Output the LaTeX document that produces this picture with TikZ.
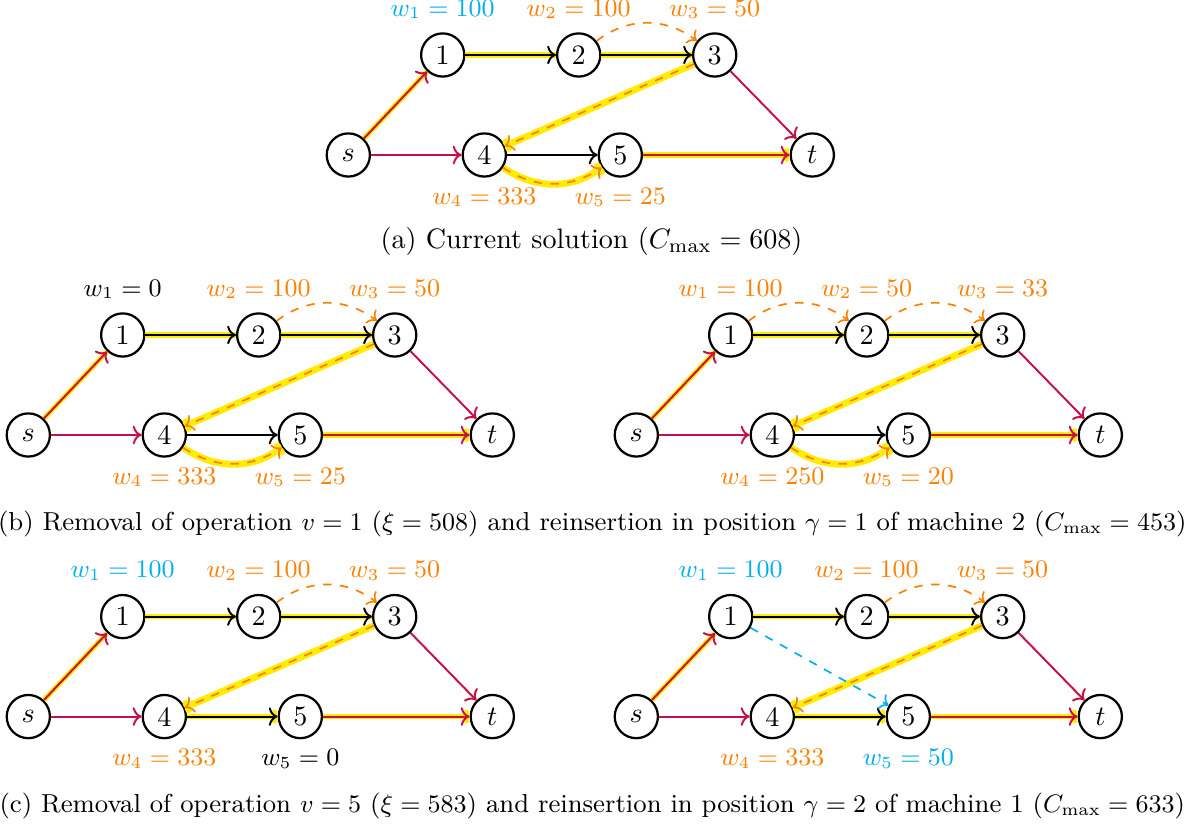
\documentclass[tikz,border=0pt]{standalone}
\usepackage{amsmath}
\usepackage{tikz}
\usetikzlibrary{
    arrows.meta,
    positioning
}
\definecolor{wcyan}{RGB}{0,174,239}
\definecolor{worange}{RGB}{255,128,0}
\definecolor{arccrimson}{RGB}{200,16,70}
\definecolor{hlyellow}{RGB}{255,236,0}
\tikzset{
    opnode/.style={
        draw,
        circle,
        thick,
        minimum size=0.54cm,
        inner sep=0pt
    },
    wlab/.style={
        font=\small,
        inner sep=1pt
    },
    capt/.style={
        font=\normalsize,
        inner sep=1pt
    },
    captlong/.style={
        font=\fontsize{9.25}{11}\selectfont,
        inner sep=1pt
    },
    srcarc/.style={
        ->,
        line width=0.7pt,
        draw=arccrimson
    },
    macharc/.style={
        ->,
        line width=0.7pt,
        draw=black
    },
    movearc/.style={
        ->,
        line width=0.6pt,
        draw=worange,
        dashed
    },
    insarc/.style={
        ->,
        line width=0.6pt,
        draw=wcyan,
        dashed
    },
    hl/.style={
        line width=1.8pt,
        draw=hlyellow
    },
    hltip/.style={
        -{To[length=2pt,width=5pt]},
        line width=1.8pt,
        draw=hlyellow
    },
    hlwide/.style={
        -{To[length=2pt,width=5pt]},
        line width=2.4pt,
        draw=hlyellow
    }
}
\newcommand{\opgraph}[1]{%
    \node[opnode] (#1-s) at (0,0) {$s$};
    \node[opnode, above right=1.25cm and 1.18cm of #1-s] (#1-o1) {1};
    \node[opnode, right=of #1-o1] (#1-o2) {2};
    \node[opnode, right=of #1-o2] (#1-o3) {3};
    \node[opnode, right=of #1-s] (#1-o4) {4};
    \node[opnode, right=of #1-o4] (#1-o5) {5};
    \node[opnode, right=2.4cm of #1-o5] (#1-t) {$t$};
    \draw[hl] (#1-s) -- (#1-o1);
    \draw[srcarc] (#1-s) -- (#1-o1);
    \draw[srcarc] (#1-s) -- (#1-o4);
    \draw[hl] (#1-o1) -- (#1-o2);
    \draw[macharc] (#1-o1) -- (#1-o2);
    \draw[hl] (#1-o2) -- (#1-o3);
    \draw[macharc] (#1-o2) -- (#1-o3);
    \draw[movearc] (#1-o2) to[bend left=38] (#1-o3);
    \draw[hlwide] (#1-o3) -- (#1-o4);
    \draw[movearc] (#1-o3) -- (#1-o4);
    \draw[srcarc] (#1-o3) -- (#1-t);
    \draw[hltip] (#1-o5) -- (#1-t);
    \draw[srcarc] (#1-o5) -- (#1-t);
}

\begin{document}
\begin{tikzpicture}[
    node distance=1.7cm,
    on grid
]
\useasboundingbox (-0.354,-4.875) rectangle (14.446,5.4375);

\begin{scope}[shift={(4,3.5)}]
\opgraph{a}
\draw[macharc] (a-o4) -- (a-o5);
\draw[hlwide] (a-o4) to[bend right=34] (a-o5);
\draw[movearc] (a-o4) to[bend right=34] (a-o5);
\node[wlab, text=wcyan, above=0.57cm of a-o1] (a-w1) {$w_1 = 100$};
\node[wlab, text=worange, above=0.57cm of a-o2] (a-w2) {$w_2 = 100$};
\node[wlab, text=worange, above=0.57cm of a-o3] (a-w3) {$w_3 = 50$};
\node[wlab, text=worange, below=0.53cm of a-o4] (a-w4) {$w_4 = 333$};
\node[wlab, text=worange, below=0.53cm of a-o5] (a-w5) {$w_5 = 25$};
\end{scope}

\begin{scope}[shift={(0,0)}]
\opgraph{bl}
\draw[macharc] (bl-o4) -- (bl-o5);
\draw[hlwide] (bl-o4) to[bend right=34] (bl-o5);
\draw[movearc] (bl-o4) to[bend right=34] (bl-o5);
\node[wlab, text=black, above=0.57cm of bl-o1] (bl-w1) {$w_1 = 0$};
\node[wlab, text=worange, above=0.57cm of bl-o2] (bl-w2) {$w_2 = 100$};
\node[wlab, text=worange, above=0.57cm of bl-o3] (bl-w3) {$w_3 = 50$};
\node[wlab, text=worange, below=0.53cm of bl-o4] (bl-w4) {$w_4 = 333$};
\node[wlab, text=worange, below=0.53cm of bl-o5] (bl-w5) {$w_5 = 25$};
\end{scope}

\begin{scope}[shift={(7.6,0)}]
\opgraph{br}
\draw[movearc] (br-o1) to[bend left=38] (br-o2);
\draw[macharc] (br-o4) -- (br-o5);
\draw[hlwide] (br-o4) to[bend right=34] (br-o5);
\draw[movearc] (br-o4) to[bend right=34] (br-o5);
\node[wlab, text=worange, above=0.57cm of br-o1] (br-w1) {$w_1 = 100$};
\node[wlab, text=worange, above=0.57cm of br-o2] (br-w2) {$w_2 = 50$};
\node[wlab, text=worange, above=0.57cm of br-o3] (br-w3) {$w_3 = 33$};
\node[wlab, text=worange, below=0.53cm of br-o4] (br-w4) {$w_4 = 250$};
\node[wlab, text=worange, below=0.53cm of br-o5] (br-w5) {$w_5 = 20$};
\end{scope}

\begin{scope}[shift={(0,-3.52)}]
\opgraph{cl}
\draw[hltip] (cl-o4) -- (cl-o5);
\draw[macharc] (cl-o4) -- (cl-o5);
\node[wlab, text=wcyan, above=0.57cm of cl-o1] (cl-w1) {$w_1 = 100$};
\node[wlab, text=worange, above=0.57cm of cl-o2] (cl-w2) {$w_2 = 100$};
\node[wlab, text=worange, above=0.57cm of cl-o3] (cl-w3) {$w_3 = 50$};
\node[wlab, text=worange, below=0.53cm of cl-o4] (cl-w4) {$w_4 = 333$};
\node[wlab, text=black, below=0.53cm of cl-o5] (cl-w5) {$w_5 = 0$};
\end{scope}

\begin{scope}[shift={(7.6,-3.52)}]
\opgraph{cr}
\draw[hltip] (cr-o4) -- (cr-o5);
\draw[macharc] (cr-o4) -- (cr-o5);
\draw[insarc] (cr-o1) -- (cr-o5);
\node[wlab, text=wcyan, above=0.57cm of cr-o1] (cr-w1) {$w_1 = 100$};
\node[wlab, text=worange, above=0.57cm of cr-o2] (cr-w2) {$w_2 = 100$};
\node[wlab, text=worange, above=0.57cm of cr-o3] (cr-w3) {$w_3 = 50$};
\node[wlab, text=worange, below=0.53cm of cr-o4] (cr-w4) {$w_4 = 333$};
\node[wlab, text=wcyan, below=0.53cm of cr-o5] (cr-w5) {$w_5 = 50$};
\end{scope}

\node[capt] (capa) at (7.04,2.425) {(a) Current solution ($C_{\max} = 608$)};
\node[captlong] (capb) at (7.05,-1.11) {(b) Removal of operation $v = 1$ ($\xi = 508$) and reinsertion in position $\gamma = 1$ of machine 2 ($C_{\max} = 453$)};
\node[captlong] (capc) at (7.05,-4.64) {(c) Removal of operation $v = 5$ ($\xi = 583$) and reinsertion in position $\gamma = 2$ of machine 1 ($C_{\max} = 633$)};

\end{tikzpicture}
\end{document}
